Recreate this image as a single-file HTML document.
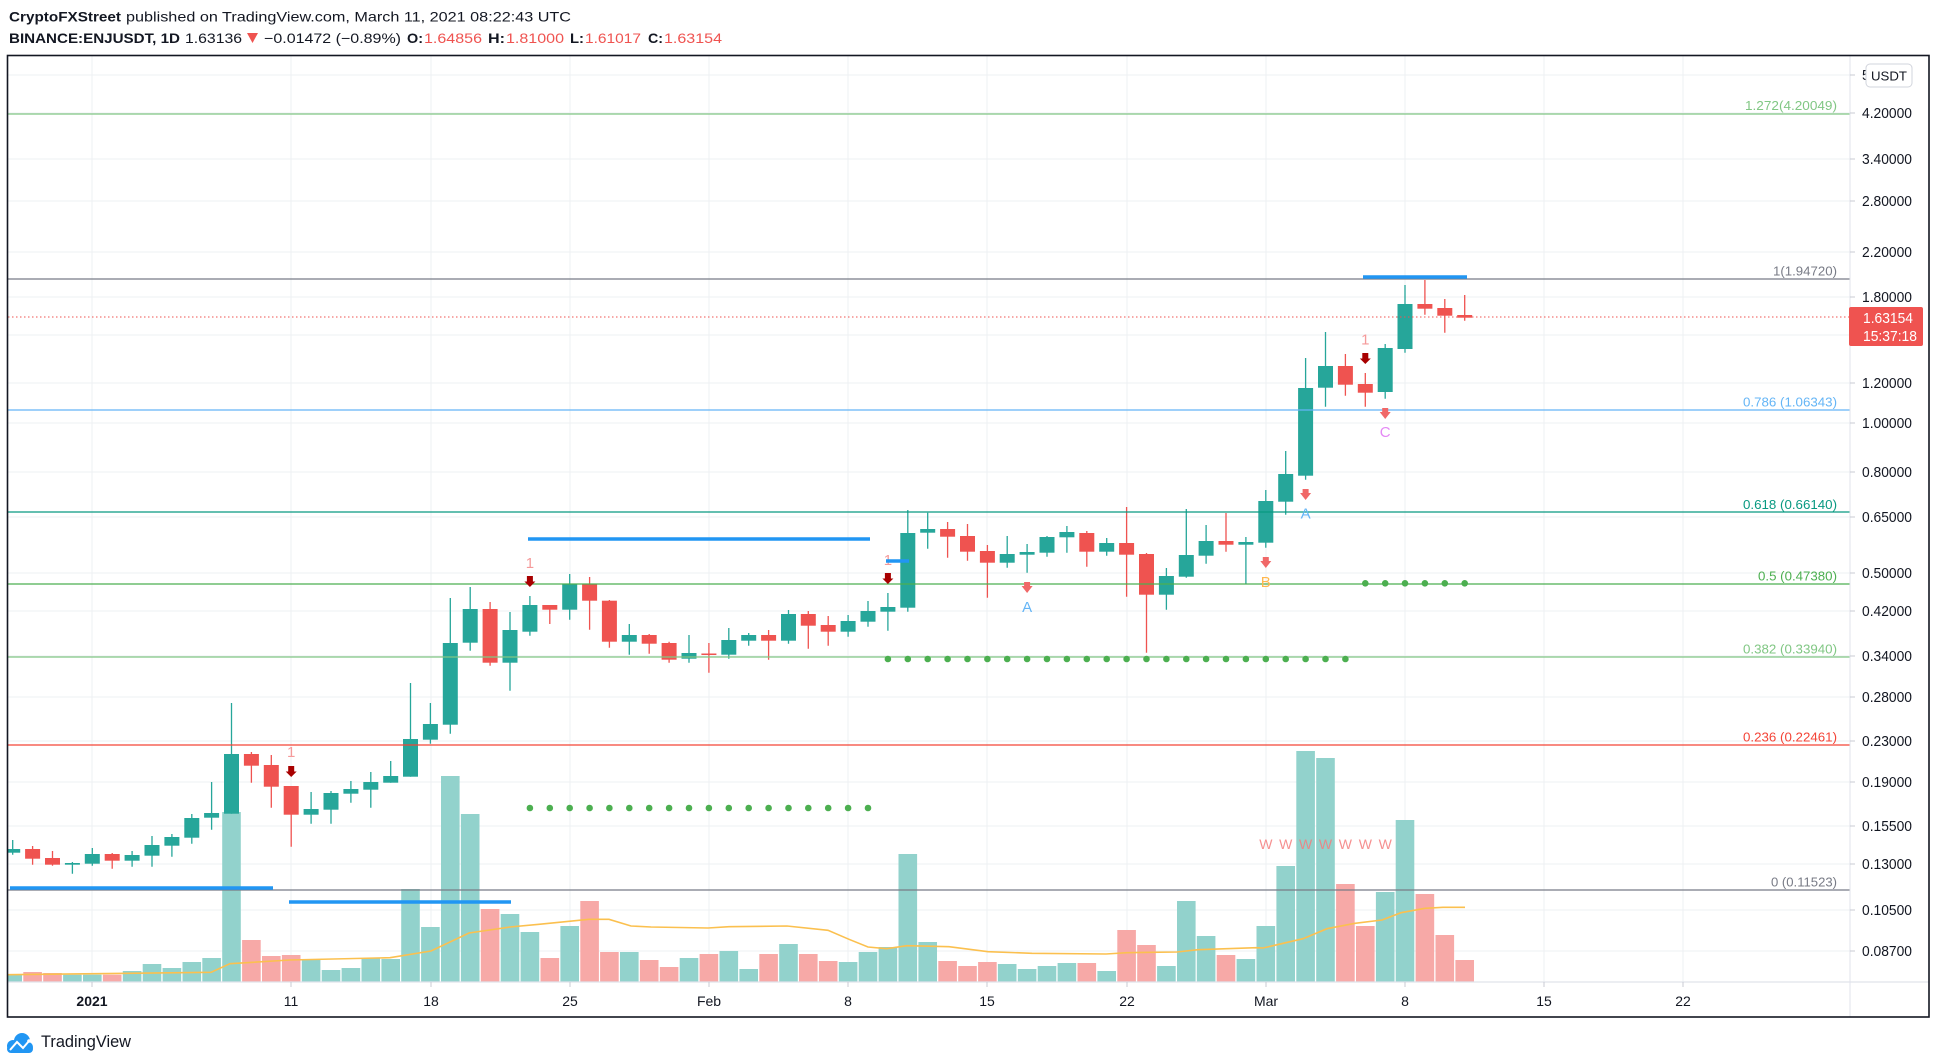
<!DOCTYPE html>
<html><head><meta charset="utf-8"><style>
html,body{margin:0;padding:0;background:#fff;}
svg{display:block;}
text{font-family:"Liberation Sans",Arial,sans-serif;}
</style></head><body>
<svg width="1938" height="1064" viewBox="0 0 1938 1064" xmlns="http://www.w3.org/2000/svg">
<defs><clipPath id="plot"><rect x="8" y="56" width="1842" height="926"/></clipPath></defs>
<rect width="1938" height="1064" fill="#fff"/>

<!-- header -->
<text x="9" y="21.5" font-size="14" font-weight="bold" fill="#131722" textLength="112" lengthAdjust="spacingAndGlyphs">CryptoFXStreet</text>
<text x="126" y="21.5" font-size="14" fill="#131722" textLength="445" lengthAdjust="spacingAndGlyphs">published on TradingView.com, March 11, 2021 08:22:43 UTC</text>
<text x="9" y="43" font-size="14" font-weight="bold" fill="#131722" textLength="171" lengthAdjust="spacingAndGlyphs">BINANCE:ENJUSDT, 1D</text>
<text x="185" y="43" font-size="14" fill="#131722" textLength="57" lengthAdjust="spacingAndGlyphs">1.63136</text>
<polygon points="247,33 258,33 252.5,43" fill="#ef5350"/>
<text x="264" y="43" font-size="14" fill="#131722" textLength="137" lengthAdjust="spacingAndGlyphs">−0.01472 (−0.89%)</text>
<text x="407" y="43" font-size="14" font-weight="bold" fill="#131722" textLength="16" lengthAdjust="spacingAndGlyphs">O:</text>
<text x="424" y="43" font-size="14" fill="#ef5350" textLength="58" lengthAdjust="spacingAndGlyphs">1.64856</text>
<text x="488" y="43" font-size="14" font-weight="bold" fill="#131722" textLength="17" lengthAdjust="spacingAndGlyphs">H:</text>
<text x="506" y="43" font-size="14" fill="#ef5350" textLength="58" lengthAdjust="spacingAndGlyphs">1.81000</text>
<text x="570" y="43" font-size="14" font-weight="bold" fill="#131722" textLength="14" lengthAdjust="spacingAndGlyphs">L:</text>
<text x="585" y="43" font-size="14" fill="#ef5350" textLength="56" lengthAdjust="spacingAndGlyphs">1.61017</text>
<text x="648" y="43" font-size="14" font-weight="bold" fill="#131722" textLength="15" lengthAdjust="spacingAndGlyphs">C:</text>
<text x="664" y="43" font-size="14" fill="#ef5350" textLength="58" lengthAdjust="spacingAndGlyphs">1.63154</text>

<!-- grid -->
<g stroke="#eef0f3" stroke-width="1">
<path d="M8 75H1850M8 113H1850M8 159H1850M8 201H1850M8 252H1850M8 297H1850M8 335H1850M8 383H1850M8 423H1850M8 472H1850M8 517H1850M8 573H1850M8 611H1850M8 656H1850M8 697H1850M8 741H1850M8 782H1850M8 826H1850M8 864H1850M8 910H1850M8 951H1850"/>
<path d="M92 56V982M291 56V982M431 56V982M570 56V982M709 56V982M848 56V982M987 56V982M1127 56V982M1266 56V982M1405 56V982M1544 56V982M1683 56V982"/>
</g>

<g clip-path="url(#plot)">
<!-- volume -->
<g fill="#92d2cc">
<rect x="3.4" y="974" width="18.6" height="8"/>
<rect x="63.1" y="974.7" width="18.6" height="7.3"/>
<rect x="83.0" y="974.7" width="18.6" height="7.3"/>
<rect x="122.8" y="971" width="18.6" height="11"/>
<rect x="142.7" y="964" width="18.6" height="18"/>
<rect x="162.6" y="968" width="18.6" height="14"/>
<rect x="182.5" y="962" width="18.6" height="20"/>
<rect x="202.3" y="958" width="18.6" height="24"/>
<rect x="222.2" y="812" width="18.6" height="170"/>
<rect x="301.8" y="960" width="18.6" height="22"/>
<rect x="321.7" y="970" width="18.6" height="12"/>
<rect x="341.6" y="968" width="18.6" height="14"/>
<rect x="361.5" y="958" width="18.6" height="24"/>
<rect x="381.4" y="959" width="18.6" height="23"/>
<rect x="401.2" y="889" width="18.6" height="93"/>
<rect x="421.1" y="927" width="18.6" height="55"/>
<rect x="441.0" y="776" width="18.6" height="206"/>
<rect x="460.9" y="814" width="18.6" height="168"/>
<rect x="500.7" y="914" width="18.6" height="68"/>
<rect x="520.6" y="932" width="18.6" height="50"/>
<rect x="560.4" y="926" width="18.6" height="56"/>
<rect x="620.0" y="952" width="18.6" height="30"/>
<rect x="679.7" y="958" width="18.6" height="24"/>
<rect x="719.5" y="951" width="18.6" height="31"/>
<rect x="739.4" y="969" width="18.6" height="13"/>
<rect x="779.2" y="944" width="18.6" height="38"/>
<rect x="838.8" y="962" width="18.6" height="20"/>
<rect x="858.7" y="952" width="18.6" height="30"/>
<rect x="878.6" y="947" width="18.6" height="35"/>
<rect x="898.5" y="854" width="18.6" height="128"/>
<rect x="918.4" y="942" width="18.6" height="40"/>
<rect x="997.9" y="964" width="18.6" height="18"/>
<rect x="1017.8" y="969" width="18.6" height="13"/>
<rect x="1037.7" y="966" width="18.6" height="16"/>
<rect x="1057.6" y="963" width="18.6" height="19"/>
<rect x="1097.4" y="971" width="18.6" height="11"/>
<rect x="1157.1" y="966" width="18.6" height="16"/>
<rect x="1177.0" y="901" width="18.6" height="81"/>
<rect x="1196.8" y="936" width="18.6" height="46"/>
<rect x="1236.6" y="959" width="18.6" height="23"/>
<rect x="1256.5" y="926" width="18.6" height="56"/>
<rect x="1276.4" y="866" width="18.6" height="116"/>
<rect x="1296.3" y="751" width="18.6" height="231"/>
<rect x="1316.2" y="758" width="18.6" height="224"/>
<rect x="1375.9" y="892" width="18.6" height="90"/>
<rect x="1395.7" y="820" width="18.6" height="162"/>
</g>
<g fill="#f7a9a7">
<rect x="23.3" y="972" width="18.6" height="10"/>
<rect x="43.2" y="973" width="18.6" height="9"/>
<rect x="102.9" y="974.7" width="18.6" height="7.3"/>
<rect x="242.1" y="940" width="18.6" height="42"/>
<rect x="262.0" y="956" width="18.6" height="26"/>
<rect x="281.9" y="955" width="18.6" height="27"/>
<rect x="480.8" y="909" width="18.6" height="73"/>
<rect x="540.5" y="958" width="18.6" height="24"/>
<rect x="580.3" y="901" width="18.6" height="81"/>
<rect x="600.1" y="952" width="18.6" height="30"/>
<rect x="639.9" y="960" width="18.6" height="22"/>
<rect x="659.8" y="967" width="18.6" height="15"/>
<rect x="699.6" y="954" width="18.6" height="28"/>
<rect x="759.3" y="954" width="18.6" height="28"/>
<rect x="799.0" y="954" width="18.6" height="28"/>
<rect x="818.9" y="961" width="18.6" height="21"/>
<rect x="938.3" y="961" width="18.6" height="21"/>
<rect x="958.2" y="966" width="18.6" height="16"/>
<rect x="978.1" y="962" width="18.6" height="20"/>
<rect x="1077.5" y="963" width="18.6" height="19"/>
<rect x="1117.3" y="930" width="18.6" height="52"/>
<rect x="1137.2" y="945" width="18.6" height="37"/>
<rect x="1216.7" y="955" width="18.6" height="27"/>
<rect x="1336.1" y="884" width="18.6" height="98"/>
<rect x="1356.0" y="926" width="18.6" height="56"/>
<rect x="1415.6" y="894" width="18.6" height="88"/>
<rect x="1435.5" y="935" width="18.6" height="47"/>
<rect x="1455.4" y="960" width="18.6" height="22"/>
</g>
<!-- volume MA -->
<polyline fill="none" stroke="#fbc04f" stroke-width="1.6" points="8,974.7 211,972.3 230,963.7 290,960 390,957.7 431,951 469,933 510,927 539,924.3 589,919.3 609,919.3 631,926 651,927 708,928 729,926.7 787,926 828,930.3 849,939.3 868,947 886.5,948.7 907,945.7 949,946.7 988,951.7 1032,953.3 1106,954 1127,952.7 1177,952 1198,949.7 1256,947.7 1263,948 1303,938.7 1327,928.7 1355,923.3 1382,920 1401,912.7 1425,908.3 1443,907.3 1465,907.3"/>

<!-- W markers -->
<g font-size="14" fill="#f47c7c" fill-opacity="0.85" text-anchor="middle">
<text x="1265.8" y="849">W</text><text x="1285.7" y="849">W</text><text x="1305.6" y="849">W</text><text x="1325.5" y="849">W</text><text x="1345.4" y="849">W</text><text x="1365.3" y="849">W</text><text x="1385.2" y="849">W</text>
</g>

<!-- candles green -->
<path stroke="#26a69a" stroke-width="1.3" fill="none" d="M12.7 840V854.7M72.4 862V873.7M92.3 848V865.7M132.1 851V866.7M152 836V866.7M171.9 834V856.7M191.8 814V843.7M211.6 782V829.7M231.5 703V813.7M311.1 792V823.7M331 791V823.7M350.9 781V802.7M370.8 772V807.7M390.7 761V782.7M410.5 683V776.7M430.4 703V743.7M450.3 598V733.7M470.2 587V650.7M510 612V690.7M529.9 596V635.7M569.7 574V619.7M629.3 624V654.7M689 635V662.7M728.8 628V658.7M748.7 633V645.7M788.5 610V643.7M848.1 615V636.7M868 601V626.7M887.9 593V630.7M907.8 510V611.7M927.7 512.7V548.7M1007.2 536V567.7M1027.1 544V572.7M1047 536V556.7M1066.9 526V552.7M1106.7 538V555.7M1166.4 568V609.7M1186.3 509V577.7M1206.1 525V563.7M1245.9 537V584M1265.8 490V547.7M1285.7 451V514.7M1305.6 358V479.7M1325.5 332V406.7M1385.2 344V398.7M1405 285V352.7"/>
<g fill="#26a69a">
<rect x="5.2" y="849" width="15" height="3.7"/>
<rect x="64.9" y="863" width="15" height="1.7"/>
<rect x="84.8" y="854" width="15" height="9.7"/>
<rect x="124.6" y="855" width="15" height="5.7"/>
<rect x="144.5" y="845" width="15" height="10.7"/>
<rect x="164.4" y="837" width="15" height="8.7"/>
<rect x="184.3" y="818" width="15" height="19.7"/>
<rect x="204.1" y="813" width="15" height="4.7"/>
<rect x="224" y="754" width="15" height="59.7"/>
<rect x="303.6" y="809" width="15" height="5.7"/>
<rect x="323.5" y="793" width="15" height="16.7"/>
<rect x="343.4" y="789" width="15" height="4.7"/>
<rect x="363.3" y="782" width="15" height="7.7"/>
<rect x="383.2" y="776" width="15" height="6.7"/>
<rect x="403" y="739" width="15" height="37.7"/>
<rect x="422.9" y="724" width="15" height="15.7"/>
<rect x="442.8" y="643" width="15" height="81.7"/>
<rect x="462.7" y="609" width="15" height="33.7"/>
<rect x="502.5" y="630" width="15" height="32.7"/>
<rect x="522.4" y="605" width="15" height="26.7"/>
<rect x="562.2" y="584" width="15" height="25.7"/>
<rect x="621.8" y="635" width="15" height="6.7"/>
<rect x="681.5" y="653" width="15" height="5.7"/>
<rect x="721.3" y="640" width="15" height="14.7"/>
<rect x="741.2" y="635" width="15" height="5.7"/>
<rect x="781" y="614" width="15" height="26.7"/>
<rect x="840.6" y="621" width="15" height="10.7"/>
<rect x="860.5" y="611" width="15" height="10.7"/>
<rect x="880.4" y="607" width="15" height="4.7"/>
<rect x="900.3" y="533" width="15" height="74.7"/>
<rect x="920.2" y="529" width="15" height="3.7"/>
<rect x="999.7" y="554" width="15" height="8.7"/>
<rect x="1019.6" y="552" width="15" height="2.7"/>
<rect x="1039.5" y="537" width="15" height="15.7"/>
<rect x="1059.4" y="532" width="15" height="5.3"/>
<rect x="1099.2" y="543" width="15" height="8.7"/>
<rect x="1158.9" y="576" width="15" height="18.7"/>
<rect x="1178.8" y="555" width="15" height="21.7"/>
<rect x="1198.6" y="541" width="15" height="14.7"/>
<rect x="1238.4" y="542" width="15" height="2.7"/>
<rect x="1258.3" y="501" width="15" height="41.7"/>
<rect x="1278.2" y="474" width="15" height="27.7"/>
<rect x="1298.1" y="388" width="15" height="87.7"/>
<rect x="1318" y="366" width="15" height="21.7"/>
<rect x="1377.7" y="348" width="15" height="44"/>
<rect x="1397.5" y="304" width="15" height="45"/>
</g>
<!-- candles red -->
<path stroke="#ef5350" stroke-width="1.3" fill="none" d="M32.6 846V864.7M52.5 851V865.7M112.2 853V868.7M251.4 752V782.7M271.3 755V807.7M291.2 786V846.7M490.1 602V665.7M549.8 605V624M589.6 577V629.7M609.4 600V647.7M649.2 634V653.7M669.1 641.7V662.7M708.9 643V672.7M768.6 630V659.7M808.3 611V648.7M828.2 616V645.7M947.6 522V557.7M967.5 524V560.7M987.4 545V597.7M1086.8 531V566.7M1126.6 507V596.7M1146.5 553V652.7M1226 513V551.7M1345.4 354V395.7M1365.3 373V406.7M1424.9 280V314.7M1444.8 299V332.7M1464.7 295V320.7"/>
<g fill="#ef5350">
<rect x="25.1" y="849" width="15" height="9.7"/>
<rect x="45" y="858" width="15" height="6.7"/>
<rect x="104.7" y="854" width="15" height="6.7"/>
<rect x="243.9" y="754" width="15" height="11.7"/>
<rect x="263.8" y="765" width="15" height="21.7"/>
<rect x="283.7" y="786" width="15" height="28.7"/>
<rect x="482.6" y="609" width="15" height="53.7"/>
<rect x="542.3" y="605" width="15" height="4.7"/>
<rect x="582.1" y="584" width="15" height="16.7"/>
<rect x="601.9" y="600.7" width="15" height="41"/>
<rect x="641.7" y="635" width="15" height="8.7"/>
<rect x="661.6" y="643" width="15" height="16.7"/>
<rect x="701.4" y="653.5" width="15" height="1.5"/>
<rect x="761.1" y="635" width="15" height="5.7"/>
<rect x="800.8" y="614" width="15" height="11.7"/>
<rect x="820.7" y="625" width="15" height="6.7"/>
<rect x="940.1" y="529" width="15" height="7.7"/>
<rect x="960" y="536" width="15" height="15.7"/>
<rect x="979.9" y="551" width="15" height="11.7"/>
<rect x="1079.3" y="533" width="15" height="18.7"/>
<rect x="1119.1" y="543" width="15" height="11.7"/>
<rect x="1139" y="554" width="15" height="40.7"/>
<rect x="1218.5" y="541" width="15" height="3.7"/>
<rect x="1337.9" y="366" width="15" height="18.7"/>
<rect x="1357.8" y="384" width="15" height="8.7"/>
<rect x="1417.4" y="304" width="15" height="4.7"/>
<rect x="1437.3" y="308" width="15" height="7.7"/>
<rect x="1457.2" y="315" width="15" height="2.7"/>
</g>

<!-- fib lines -->
<g stroke-width="1.2">
<line x1="8" y1="114" x2="1850" y2="114" stroke="#81c784"/>
<line x1="8" y1="279" x2="1850" y2="279" stroke="#787b86"/>
<line x1="8" y1="410" x2="1850" y2="410" stroke="#64b5f6"/>
<line x1="8" y1="512" x2="1850" y2="512" stroke="#089981"/>
<line x1="8" y1="584" x2="1850" y2="584" stroke="#4caf50"/>
<line x1="8" y1="657" x2="1850" y2="657" stroke="#81c784"/>
<line x1="8" y1="745" x2="1850" y2="745" stroke="#f44336"/>
<line x1="8" y1="890" x2="1850" y2="890" stroke="#787b86"/>
</g>
<!-- current price dotted -->
<line x1="8" y1="317" x2="1850" y2="317" stroke="#ef5350" stroke-width="1" stroke-dasharray="1.5 2.5"/>

<!-- blue lines -->
<g stroke="#2196f3" stroke-width="3.5">
<line x1="528" y1="539" x2="870" y2="539"/>
<line x1="10" y1="888" x2="273" y2="888"/>
<line x1="289" y1="902" x2="511" y2="902"/>
<line x1="1363" y1="277" x2="1467" y2="277"/>
</g>

<!-- "1" labels -->
<g font-size="15" fill="#f59a9a" text-anchor="middle">
<text x="291.2" y="757">1</text>
<text x="529.9" y="568">1</text>
<text x="887.9" y="565">1</text>
<text x="1365.3" y="344.5">1</text>
</g>
<line x1="886" y1="561" x2="909" y2="561" stroke="#2196f3" stroke-width="3.5"/>

<!-- arrows -->
<g fill="#a80000">
<path d="M288.2 766h6v5.5h2.5l-5.5 5.5l-5.5 -5.5h2.5z"/>
<path d="M526.9 576h6v5.5h2.5l-5.5 5.5l-5.5 -5.5h2.5z"/>
<path d="M884.9 573h6v5.5h2.5l-5.5 5.5l-5.5 -5.5h2.5z"/>
<path d="M1362.3 353h6v5.5h2.5l-5.5 5.5l-5.5 -5.5h2.5z"/>
</g>
<g fill="#f06868">
<path d="M1024.1 582h6v4h2.5l-5.5 7l-5.5 -7h2.5z"/>
<path d="M1262.8 557h6v4h2.5l-5.5 7l-5.5 -7h2.5z"/>
<path d="M1302.6 489h6v4h2.5l-5.5 7l-5.5 -7h2.5z"/>
<path d="M1382.2 408h6v4h2.5l-5.5 7l-5.5 -7h2.5z"/>
</g>
<g font-size="15" text-anchor="middle">
<text x="1027.1" y="612" fill="#64b5f6">A</text>
<text x="1265.8" y="587" fill="#ffb74d">B</text>
<text x="1305.6" y="518.5" fill="#64b5f6">A</text>
<text x="1385.2" y="437" fill="#e488f5">C</text>
</g>

<!-- green dots -->
<g fill="#4caf50">
<circle cx="529.9" cy="808" r="3.3"/><circle cx="549.8" cy="808" r="3.3"/><circle cx="569.7" cy="808" r="3.3"/><circle cx="589.6" cy="808" r="3.3"/><circle cx="609.4" cy="808" r="3.3"/><circle cx="629.3" cy="808" r="3.3"/><circle cx="649.2" cy="808" r="3.3"/><circle cx="669.1" cy="808" r="3.3"/><circle cx="689" cy="808" r="3.3"/><circle cx="708.9" cy="808" r="3.3"/><circle cx="728.8" cy="808" r="3.3"/><circle cx="748.7" cy="808" r="3.3"/><circle cx="768.6" cy="808" r="3.3"/><circle cx="788.5" cy="808" r="3.3"/><circle cx="808.3" cy="808" r="3.3"/><circle cx="828.2" cy="808" r="3.3"/><circle cx="848.1" cy="808" r="3.3"/><circle cx="868" cy="808" r="3.3"/>
<circle cx="887.9" cy="659" r="3.3"/><circle cx="907.8" cy="659" r="3.3"/><circle cx="927.7" cy="659" r="3.3"/><circle cx="947.6" cy="659" r="3.3"/><circle cx="967.5" cy="659" r="3.3"/><circle cx="987.4" cy="659" r="3.3"/><circle cx="1007.2" cy="659" r="3.3"/><circle cx="1027.1" cy="659" r="3.3"/><circle cx="1047" cy="659" r="3.3"/><circle cx="1066.9" cy="659" r="3.3"/><circle cx="1086.8" cy="659" r="3.3"/><circle cx="1106.7" cy="659" r="3.3"/><circle cx="1126.6" cy="659" r="3.3"/><circle cx="1146.5" cy="659" r="3.3"/><circle cx="1166.4" cy="659" r="3.3"/><circle cx="1186.3" cy="659" r="3.3"/><circle cx="1206.1" cy="659" r="3.3"/><circle cx="1226" cy="659" r="3.3"/><circle cx="1245.9" cy="659" r="3.3"/><circle cx="1265.8" cy="659" r="3.3"/><circle cx="1285.7" cy="659" r="3.3"/><circle cx="1305.6" cy="659" r="3.3"/><circle cx="1325.5" cy="659" r="3.3"/><circle cx="1345.4" cy="659" r="3.3"/>
<circle cx="1365.3" cy="583.3" r="3.3"/><circle cx="1385.2" cy="583.3" r="3.3"/><circle cx="1405" cy="583.3" r="3.3"/><circle cx="1424.9" cy="583.3" r="3.3"/><circle cx="1444.8" cy="583.3" r="3.3"/><circle cx="1464.7" cy="583.3" r="3.3"/>
</g>
</g>

<!-- fib labels -->
<g font-size="13" text-anchor="end">
<text x="1837" y="110" fill="#81c784" textLength="92" lengthAdjust="spacingAndGlyphs">1.272(4.20049)</text>
<text x="1837" y="275.5" fill="#787b86" textLength="64" lengthAdjust="spacingAndGlyphs">1(1.94720)</text>
<text x="1837" y="406.5" fill="#64b5f6" textLength="94" lengthAdjust="spacingAndGlyphs">0.786 (1.06343)</text>
<text x="1837" y="509" fill="#089981" textLength="94" lengthAdjust="spacingAndGlyphs">0.618 (0.66140)</text>
<text x="1837" y="580.5" fill="#4caf50" textLength="79" lengthAdjust="spacingAndGlyphs">0.5 (0.47380)</text>
<text x="1837" y="653.5" fill="#81c784" textLength="94" lengthAdjust="spacingAndGlyphs">0.382 (0.33940)</text>
<text x="1837" y="741.5" fill="#f44336" textLength="94" lengthAdjust="spacingAndGlyphs">0.236 (0.22461)</text>
<text x="1837" y="886.5" fill="#787b86" textLength="66" lengthAdjust="spacingAndGlyphs">0 (0.11523)</text>
</g>

<!-- axes separators -->
<line x1="1850" y1="56" x2="1850" y2="1017" stroke="#e0e3eb" stroke-width="1"/>
<line x1="8" y1="982" x2="1929" y2="982" stroke="#e0e3eb" stroke-width="1.2"/>

<!-- price axis -->
<g stroke="#c8cbd3" stroke-width="1">
<path d="M1850 75h5M1850 113h5M1850 159h5M1850 201h5M1850 252h5M1850 297h5M1850 383h5M1850 423h5M1850 472h5M1850 517h5M1850 573h5M1850 611h5M1850 656h5M1850 697h5M1850 741h5M1850 782h5M1850 826h5M1850 864h5M1850 910h5M1850 951h5"/>
</g>
<g font-size="14.5" fill="#131722">
<text x="1862" y="80" textLength="50" lengthAdjust="spacingAndGlyphs">5.00000</text>
<text x="1862" y="118" textLength="50" lengthAdjust="spacingAndGlyphs">4.20000</text>
<text x="1862" y="164" textLength="50" lengthAdjust="spacingAndGlyphs">3.40000</text>
<text x="1862" y="206" textLength="50" lengthAdjust="spacingAndGlyphs">2.80000</text>
<text x="1862" y="257" textLength="50" lengthAdjust="spacingAndGlyphs">2.20000</text>
<text x="1862" y="302" textLength="50" lengthAdjust="spacingAndGlyphs">1.80000</text>
<text x="1862" y="388" textLength="50" lengthAdjust="spacingAndGlyphs">1.20000</text>
<text x="1862" y="428" textLength="50" lengthAdjust="spacingAndGlyphs">1.00000</text>
<text x="1862" y="477" textLength="50" lengthAdjust="spacingAndGlyphs">0.80000</text>
<text x="1862" y="522" textLength="50" lengthAdjust="spacingAndGlyphs">0.65000</text>
<text x="1862" y="578" textLength="50" lengthAdjust="spacingAndGlyphs">0.50000</text>
<text x="1862" y="616" textLength="50" lengthAdjust="spacingAndGlyphs">0.42000</text>
<text x="1862" y="661" textLength="50" lengthAdjust="spacingAndGlyphs">0.34000</text>
<text x="1862" y="702" textLength="50" lengthAdjust="spacingAndGlyphs">0.28000</text>
<text x="1862" y="746" textLength="50" lengthAdjust="spacingAndGlyphs">0.23000</text>
<text x="1862" y="787" textLength="50" lengthAdjust="spacingAndGlyphs">0.19000</text>
<text x="1862" y="831" textLength="50" lengthAdjust="spacingAndGlyphs">0.15500</text>
<text x="1862" y="869" textLength="50" lengthAdjust="spacingAndGlyphs">0.13000</text>
<text x="1862" y="915" textLength="50" lengthAdjust="spacingAndGlyphs">0.10500</text>
<text x="1862" y="956" textLength="50" lengthAdjust="spacingAndGlyphs">0.08700</text>
</g>
<!-- USDT box -->
<rect x="1866" y="64" width="46" height="23" rx="4" fill="#fff" stroke="#d1d4dc" stroke-width="1"/>
<text x="1889" y="80.5" font-size="13" fill="#131722" text-anchor="middle" textLength="36" lengthAdjust="spacingAndGlyphs">USDT</text>
<!-- current price label -->
<rect x="1849" y="307" width="74" height="39" rx="2" fill="#ef5350"/>
<text x="1863" y="323" font-size="14.5" fill="#fff" textLength="50" lengthAdjust="spacingAndGlyphs">1.63154</text>
<text x="1863" y="341" font-size="14.5" fill="#fff" textLength="54" lengthAdjust="spacingAndGlyphs">15:37:18</text>

<!-- time axis -->
<g stroke="#c8cbd3" stroke-width="1">
<path d="M92 982v5M291 982v5M431 982v5M570 982v5M709 982v5M848 982v5M987 982v5M1127 982v5M1266 982v5M1405 982v5M1544 982v5M1683 982v5"/>
</g>
<g font-size="14" fill="#131722" text-anchor="middle">
<text x="92" y="1006" font-weight="bold">2021</text>
<text x="291" y="1006">11</text>
<text x="431" y="1006">18</text>
<text x="570" y="1006">25</text>
<text x="709" y="1006">Feb</text>
<text x="848" y="1006">8</text>
<text x="987" y="1006">15</text>
<text x="1127" y="1006">22</text>
<text x="1266" y="1006">Mar</text>
<text x="1405" y="1006">8</text>
<text x="1544" y="1006">15</text>
<text x="1683" y="1006">22</text>
</g>

<!-- frame -->
<rect x="7.5" y="55.5" width="1921.5" height="961.5" fill="none" stroke="#131722" stroke-width="1.6"/>

<!-- logo -->
<g>
<circle cx="22" cy="1041" r="8" fill="#2196f3"/>
<circle cx="13" cy="1046" r="6" fill="#2196f3"/>
<circle cx="28" cy="1047" r="5" fill="#2196f3"/>
<rect x="7" y="1045" width="26" height="8" rx="4" fill="#2196f3"/>
<polyline points="10,1050 17,1042 23,1048 29,1041" fill="none" stroke="#fff" stroke-width="2"/>
<circle cx="29" cy="1041" r="1.8" fill="#fff"/>
</g>
<text x="41" y="1047" font-size="17" fill="#131722" textLength="90" lengthAdjust="spacingAndGlyphs">TradingView</text>
</svg>
</body></html>
